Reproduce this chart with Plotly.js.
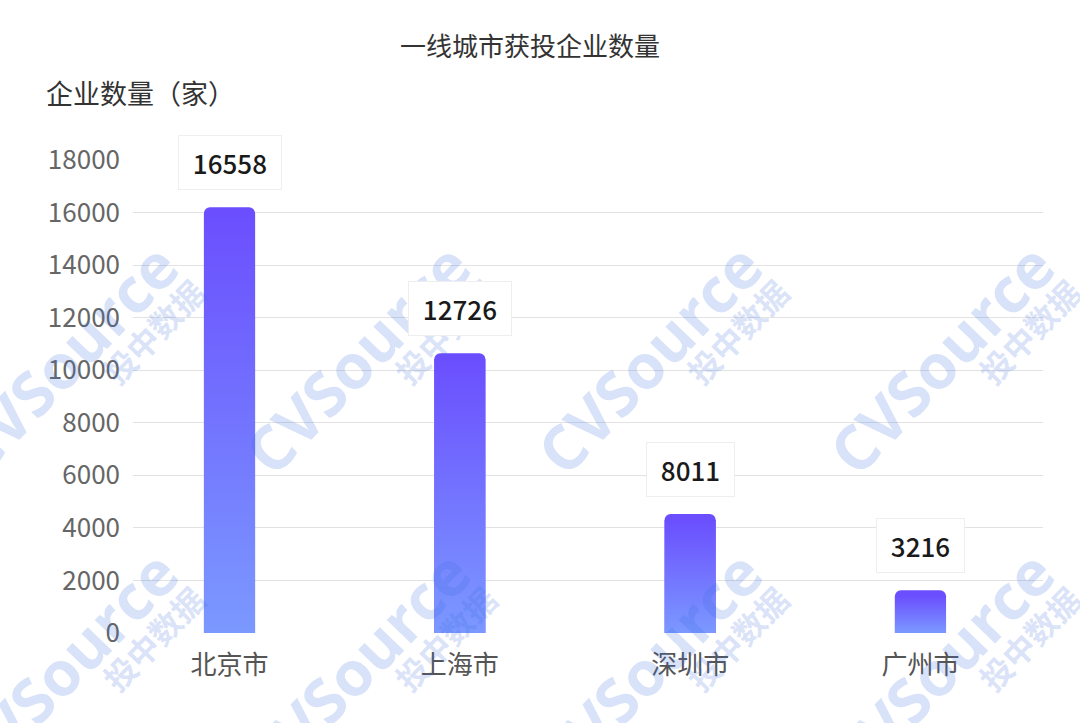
<!DOCTYPE html>
<html>
<head>
<meta charset="utf-8">
<script src="https://cdn.plot.ly/plotly-3.0.1.min.js"></script>
<style>html,body{margin:0;padding:0;background:#fff;}#chart{width:1080px;height:723px;}</style>
</head>
<body>
<div id="chart"></div>
<script>
// ---- data ----
const categories = ['北京市', '上海市', '深圳市', '广州市'];
const barHeights = [16200, 10650, 4530, 1630];      // bar heights as drawn
const labelValues = [16558, 12726, 8011, 3216];     // numbers printed in the label boxes
const yTickValues = [0, 2000, 4000, 6000, 8000, 10000, 12000, 14000, 16000, 18000];
const yTickLabels = ['0', '2000', '4000', '6000', '8000', '10000', '12000', '14000', '16000', '18000'];
const chartTitle = '一线城市获投企业数量';
const yAxisTitle = '企业数量（家）';
const watermarkMain = 'CVSource';
const watermarkSub = '投中数据';

// ---- layout constants ----
const W = 1080, H = 723;
const M = {l: 133, r: 37, t: 160, b: 90};
const plotW = W - M.l - M.r, plotH = H - M.t - M.b;
const yMax = 18000;
const barWidth = 0.222;
const cornerPx = 6;
const cornerData = cornerPx * yMax / plotH;
const CJK = '"Noto Sans CJK SC", "Noto Sans", sans-serif';
const topColor = '#6b4ffe';
const bottomColor = '#7b99ff';

const xIdx = categories.map((c, i) => i);

const traces = [];
traces.push({
  type: 'bar',
  x: xIdx,
  y: barHeights,
  width: barWidth,
  marker: {color: topColor, cornerradius: cornerPx, line: {width: 0}},
  hoverinfo: 'skip',
  showlegend: false
});
// gradient body of each bar (below the rounded top)
barHeights.forEach((v, i) => {
  const x0 = i - barWidth / 2, x1 = i + barWidth / 2;
  const top = v - cornerData;
  traces.push({
    type: 'scatter',
    mode: 'lines',
    x: [x0, x0, x1, x1, x0],
    y: [0, top, top, 0, 0],
    fill: 'toself',
    line: {width: 0, color: 'rgba(0,0,0,0)'},
    fillgradient: {type: 'vertical', colorscale: [[0, bottomColor], [1, topColor]]},
    hoverinfo: 'skip',
    showlegend: false
  });
});

function px2x(px) { return (px - M.l) / plotW; }
function px2y(py) { return (H - M.b - py) / plotH; }

const annotations = [];
// watermarks (drawn first so labels sit on top)
const wmColor = 'rgba(60,110,220,0.2)';
const wmCols = [65, 357, 649, 941];
const wmRows = [358, 665];
wmRows.forEach(ry => {
  wmCols.forEach(cx => {
    annotations.push({
      xref: 'paper', yref: 'paper', x: px2x(cx), y: px2y(ry),
      xanchor: 'center', yanchor: 'middle', showarrow: false, textangle: -46,
      text: watermarkMain,
      font: {family: '"Open Sans", "Noto Sans", sans-serif', size: 62, weight: 'bold', color: wmColor}
    });
    annotations.push({
      xref: 'paper', yref: 'paper', x: px2x(cx + 88), y: px2y(ry - 27),
      xanchor: 'center', yanchor: 'middle', showarrow: false, textangle: -46,
      text: watermarkSub,
      font: {family: CJK, size: 32, weight: 'bold', color: wmColor}
    });
  });
});
// y axis title
annotations.push({
  xref: 'paper', yref: 'paper', x: px2x(44), y: px2y(93),
  xanchor: 'left', yanchor: 'middle', showarrow: false,
  text: yAxisTitle, font: {family: CJK, size: 27, color: '#333333'}
});
// value label boxes
barHeights.forEach((v, i) => {
  annotations.push({
    xref: 'x', yref: 'y', x: i, y: v,
    xanchor: 'center', yanchor: 'bottom', yshift: 17, showarrow: false,
    text: '&nbsp;' + String(labelValues[i]) + '&nbsp;',
    bgcolor: '#ffffff', bordercolor: '#eeeeee', borderwidth: 1, borderpad: 8,
    font: {family: CJK, size: 26, color: '#1a1a1a', weight: 500}
  });
});

const layout = {
  width: W, height: H,
  margin: M,
  paper_bgcolor: '#ffffff', plot_bgcolor: '#ffffff',
  title: {
    text: chartTitle, xref: 'container', yref: 'container',
    x: 530 / W, y: 1 - 47 / H, xanchor: 'center', yanchor: 'middle',
    font: {family: CJK, size: 26, color: '#333333'}
  },
  xaxis: {
    type: 'linear', range: [-0.419, 3.532],
    tickvals: xIdx, ticktext: categories,
    showgrid: false, zeroline: false, showline: false, ticks: '',
    ticklabelstandoff: 14,
    tickfont: {family: CJK, size: 26, color: '#555555'},
    fixedrange: true
  },
  yaxis: {
    range: [0, yMax], tickvals: yTickValues, ticktext: yTickLabels,
    showgrid: true, gridcolor: '#e2e2e2', gridwidth: 1,
    zeroline: false, showline: false, ticks: '',
    ticklabelstandoff: 12,
    tickfont: {family: CJK, size: 26, color: '#666666'},
    fixedrange: true
  },
  annotations: annotations,
  showlegend: false
};

Plotly.newPlot('chart', traces, layout, {displayModeBar: false, staticPlot: true});
</script>
</body>
</html>
